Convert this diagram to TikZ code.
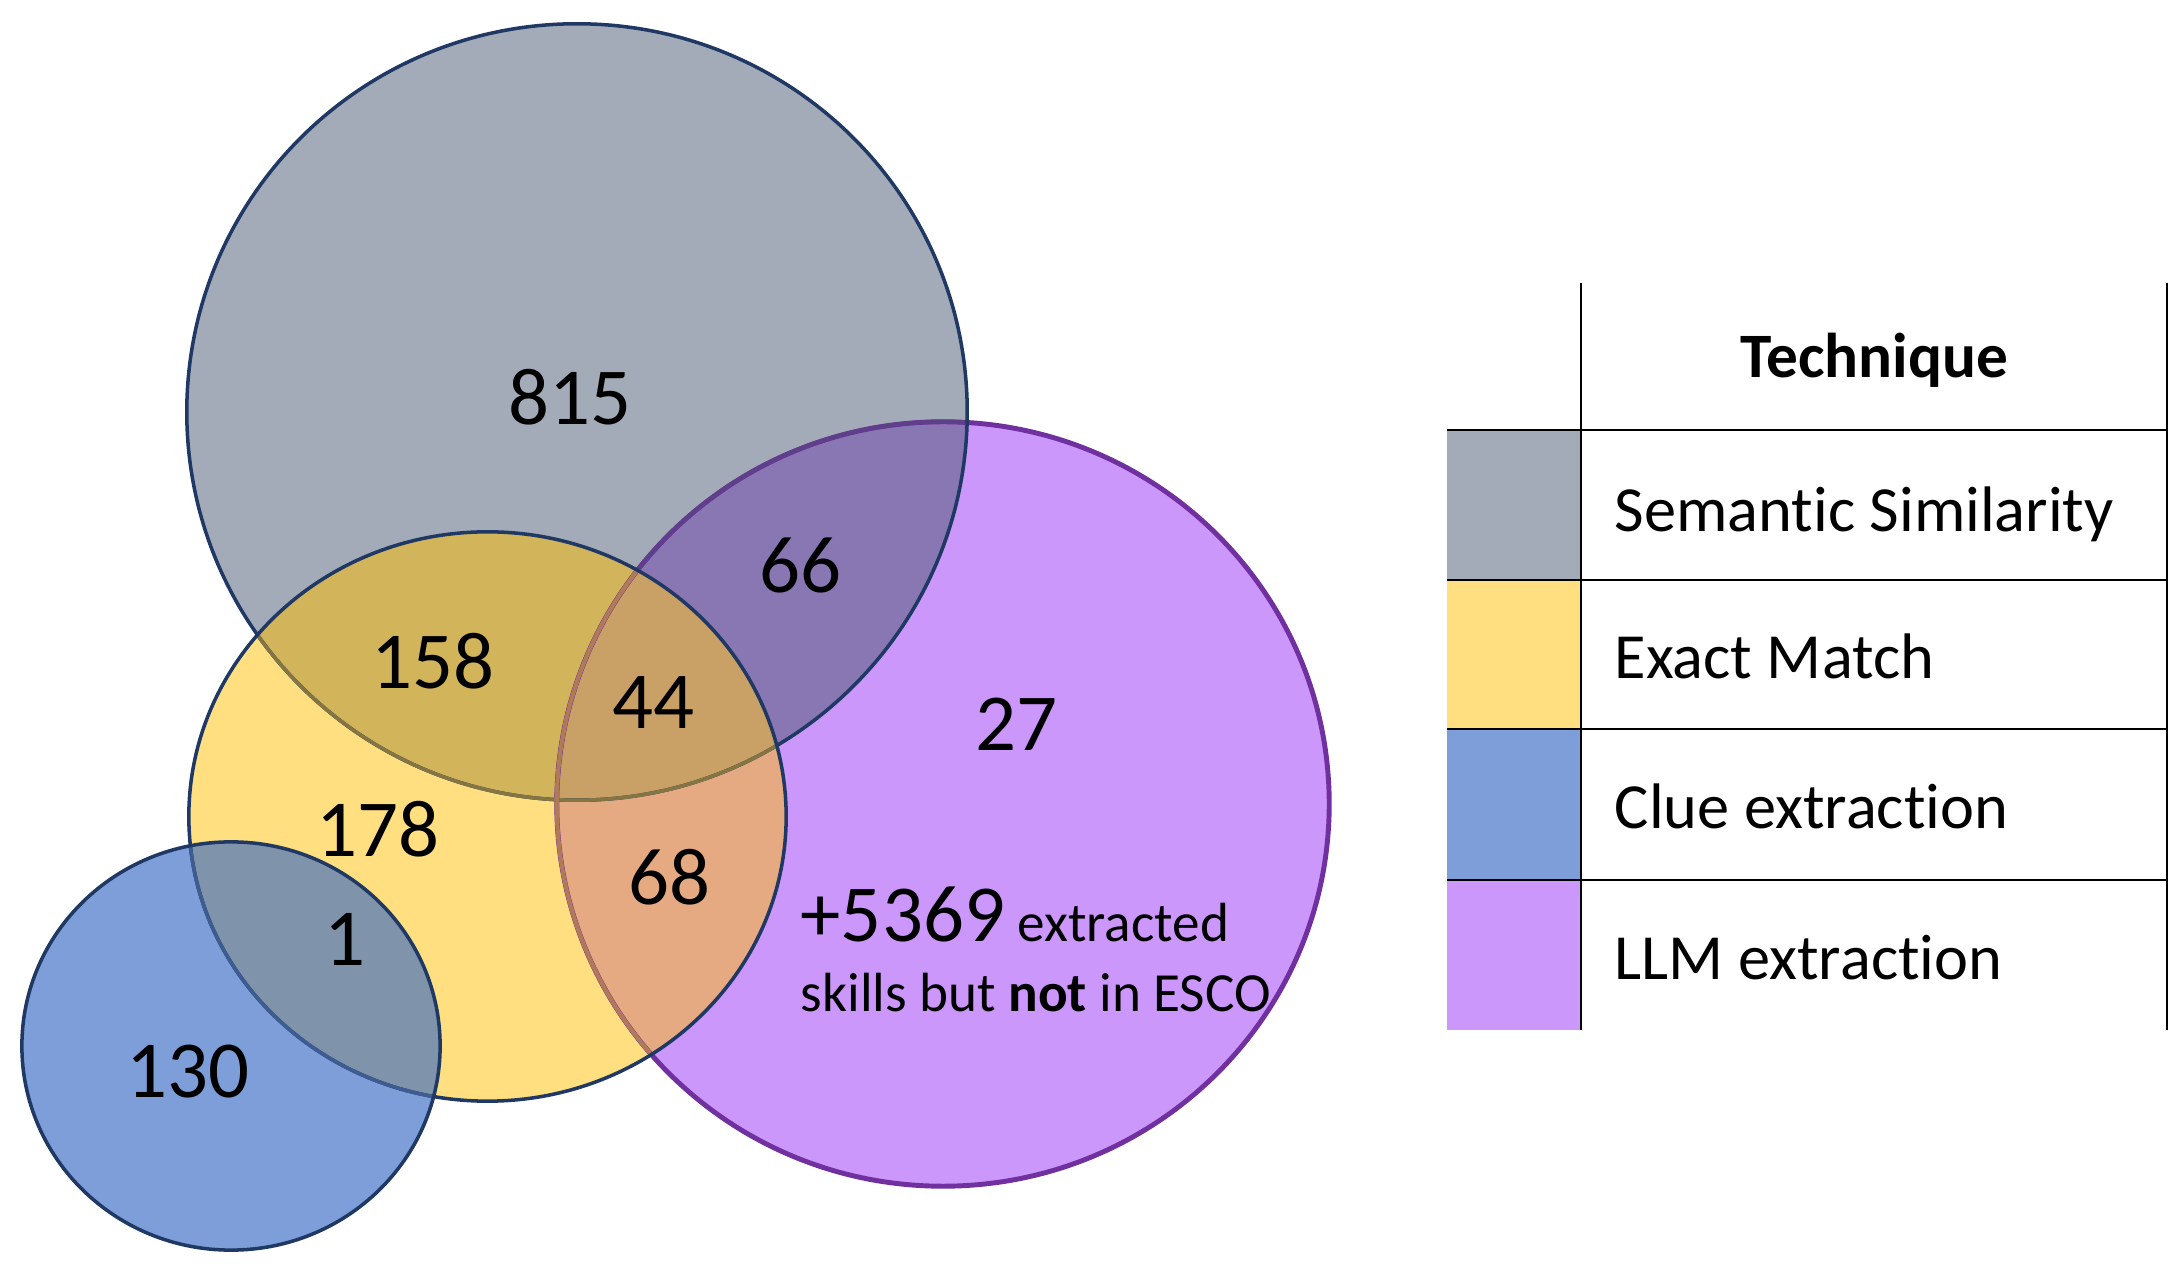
\documentclass[tikz,border=0pt]{standalone}
\usepackage{fontspec}
\setmainfont[Ligatures=NoCommon]{Carlito}
\definecolor{cgray}{HTML}{A3ABB8}
\definecolor{cpurple}{HTML}{CB97FA}
\definecolor{cyellow}{HTML}{FFDF80}
\definecolor{cblue}{HTML}{7D9ED8}
\definecolor{cGP}{HTML}{8977B3}
\definecolor{cGY}{HTML}{D2B55B}
\definecolor{cGYP}{HTML}{C9A065}
\definecolor{cYP}{HTML}{E6AA82}
\definecolor{cBY}{HTML}{7F93AB}
\definecolor{navy}{HTML}{1F3864}
\definecolor{pline}{HTML}{7030A0}
\definecolor{pline2}{HTML}{5E3F8A}
\definecolor{olive}{HTML}{857543}
\definecolor{brownl}{HTML}{B07A5A}
\definecolor{bline}{HTML}{3D5C92}
\newcommand\GrayP{(577,412) ellipse [x radius=3.90cm, y radius=3.88cm]}
\newcommand\PurpP{(943,804) ellipse [x radius=3.86cm, y radius=3.82cm]}
\newcommand\YelP{(487.5,816.5) ellipse [x radius=2.985cm, y radius=2.845cm]}
\newcommand\BlueP{(231,1046) ellipse [x radius=2.09cm, y radius=2.04cm]}
\begin{document}
\begin{tikzpicture}[x=0.01cm,y=-0.01cm,
  num/.style={font=\fontsize{23}{27}\selectfont, inner sep=0pt},
  smalltxt/.style={font=\fontsize{15.7}{19}\selectfont, inner sep=0pt, anchor=base west},
  legtext/.style={font=\fontsize{18.3}{22}\selectfont, inner sep=0pt, anchor=base west},
  rulel/.style={draw=black, line width=0.7pt},
  outl/.style={line width=1pt}]
\useasboundingbox (0,0) rectangle (2182,1277);
% fills
\fill[cpurple] \PurpP;
\fill[cgray] \GrayP;
\begin{scope}\clip \PurpP; \fill[cGP] \GrayP; \end{scope}
\fill[cyellow] \YelP;
\begin{scope}\clip \YelP; \fill[cGY] \GrayP; \fill[cYP] \PurpP; \end{scope}
\begin{scope}\clip \YelP; \clip \GrayP; \fill[cGYP] \PurpP; \end{scope}
\fill[cblue] \BlueP;
\begin{scope}\clip \BlueP; \fill[cBY] \YelP; \end{scope}
% outlines
\draw[pline, line width=1.4pt] \PurpP;
\begin{scope}\clip \GrayP; \draw[pline2, line width=1.2pt] \PurpP; \end{scope}
\draw[navy, outl] \GrayP;
\begin{scope}\clip \YelP; \draw[olive, outl] \GrayP; \draw[brownl, line width=1.2pt] \PurpP; \end{scope}
\draw[navy, outl] \YelP;
\begin{scope}\clip \BlueP; \draw[bline, outl] \YelP; \end{scope}
\draw[navy, outl] \BlueP;
% numbers
\node[num] (n815) at (570,397) {815};
\node[num] (n66) at (800,565) {66};
\node[num] (n158) at (433,661) {158};
\node[num] (n44) at (653,703) {44};
\node[num] (n27) at (1016,724) {27};
\node[num] (n178) at (378,829) {178};
\node[num] (n68) at (669,877) {68};
\node[num] (n1) at (345,939) {1};
\node[num] (n130) at (188,1072) {130};
\node[smalltxt] (extra1) at (800,942) {{\fontsize{23}{27}\selectfont +5369} extracted};
\node[smalltxt] (extra2) at (800,1012) {skills but \textbf{not} in ESCO};
% legend
\fill[cgray] (1447,430) rectangle (1581,580);
\fill[cyellow] (1447,580) rectangle (1581,729);
\fill[cblue] (1447,729) rectangle (1581,880);
\fill[cpurple] (1447,880) rectangle (1581,1030);
\draw[rulel] (1581,283) -- (1581,1030);
\draw[rulel] (2167,283) -- (2167,1030);
\foreach \yy in {430,580,729,880} { \draw[rulel] (1447,\yy) -- (2167,\yy); }
\node[font=\fontsize{18}{22}\selectfont\bfseries, inner sep=0pt, anchor=base] (thead) at (1874,378) {Technique};
\node[legtext] (l1) at (1614,532) {Semantic Similarity};
\node[legtext] (l2) at (1614,679) {Exact Match};
\node[legtext] (l3) at (1614,829) {Clue extraction};
\node[legtext] (l4) at (1614,980) {LLM extraction};
\end{tikzpicture}
\end{document}
